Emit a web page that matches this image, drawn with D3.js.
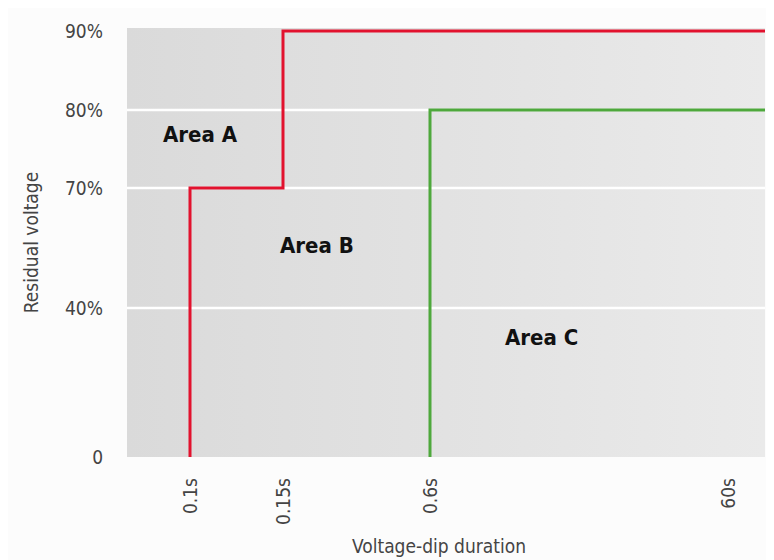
<!DOCTYPE html>
<html><head><meta charset="utf-8">
<script src="https://cdn.jsdelivr.net/npm/d3@7"></script>
<style>
html,body{margin:0;padding:0;background:#fff;}
svg{display:block;}
text{font-family:"Liberation Sans Narrow","DejaVu Sans Condensed","Roboto",sans-serif;}
</style></head>
<body>
<script>
// ---- data ----
const xTickValues = [0.1, 0.15, 0.6, 60];
const xTickLabels = ["0.1s", "0.15s", "0.6s", "60s"];
const yTickValues = [0, 40, 70, 80, 90];
const yTickLabels = ["0", "40%", "70%", "80%", "90%"];
// curves: step boundaries (duration, residual voltage); last point extends to the plot edge
const redDurations = [0.1, 0.1, 0.15, 0.15];
const redVoltages  = [0, 70, 70, 90];
const greenDurations = [0.6, 0.6];
const greenVoltages  = [0, 80];
const areaNames = ["Area A", "Area B", "Area C"];
const areaDurations = [0.1, 0.15, 0.6];   // anchor points for the labels
const areaVoltages  = [80, 70, 40];

// ---- layout ----
const W = 774, H = 560;
const plot = {left: 127, right: 765, top: 28, bottom: 457};
const svg = d3.select("body").append("svg").attr("width", W).attr("height", H);

const defs = svg.append("defs");
const grad = defs.append("linearGradient").attr("id","bg").attr("x1","0").attr("x2","1").attr("y1","0").attr("y2","0");
grad.append("stop").attr("offset","0").attr("stop-color","#dadada");
grad.append("stop").attr("offset","1").attr("stop-color","#eaeaea");

svg.append("rect").attr("x",8).attr("y",8).attr("width",W-16).attr("height",H-8).attr("fill","#fcfcfc");

svg.append("rect").attr("x",plot.left).attr("y",plot.top)
  .attr("width",plot.right-plot.left).attr("height",plot.bottom-plot.top).attr("fill","url(#bg)");

const x = d3.scaleLinear().domain(xTickValues).range([190, 283, 430, 728]);
const y = d3.scaleLinear().domain(yTickValues).range([plot.bottom, 308, 188, 110, 31]);

// gridlines
svg.append("g").selectAll("line").data(yTickValues.filter(v => v > 0 && v < 90)).join("line")
  .attr("x1", plot.left).attr("x2", plot.right)
  .attr("y1", d => y(d)).attr("y2", d => y(d))
  .attr("stroke", "#ffffff").attr("stroke-width", 2.5);

// y axis
const yAxis = d3.axisLeft(y).tickValues(yTickValues).tickFormat((d,i) => yTickLabels[i]).tickSize(0).tickPadding(0);
const gy = svg.append("g").attr("transform", `translate(${plot.left - 24},0)`).call(yAxis);
gy.select(".domain").remove();
gy.selectAll("text").attr("font-size", 19).attr("fill", "#444").attr("dy", "0.35em")
  .style("font-family", '"Liberation Sans Narrow","DejaVu Sans Condensed",sans-serif');

// x axis
const xAxis = d3.axisBottom(x).tickValues(xTickValues).tickFormat((d,i) => xTickLabels[i]).tickSize(0).tickPadding(0);
const gx = svg.append("g").attr("transform", `translate(0,${plot.bottom + 21})`).call(xAxis);
gx.select(".domain").remove();
gx.selectAll("text").attr("font-size", 19).attr("fill", "#444")
  .attr("transform", "rotate(-90)").attr("text-anchor", "end")
  .attr("x", 0).attr("y", 0).attr("dy", "0.35em")
  .style("font-family", '"Liberation Sans Narrow","DejaVu Sans Condensed",sans-serif');

// axis titles
svg.append("text").attr("x", (plot.left + plot.right) / 2 - 7).attr("y", 553)
  .attr("text-anchor", "middle").attr("font-size", 19).attr("fill", "#444").text("Voltage-dip duration");
svg.append("text").attr("transform", `translate(38,${(plot.top + plot.bottom) / 2}) rotate(-90)`)
  .attr("text-anchor", "middle").attr("font-size", 19).attr("fill", "#444").text("Residual voltage");

// curves
function curvePoints(ds, vs) {
  const pts = ds.map((d, i) => [x(d), y(vs[i])]);
  pts.push([plot.right, y(vs[vs.length - 1])]);
  return pts;
}
const line = d3.line();
svg.append("path").attr("d", line(curvePoints(greenDurations, greenVoltages)))
  .attr("fill", "none").attr("stroke", "#4ea83c").attr("stroke-width", 3).attr("stroke-linejoin", "miter");
svg.append("path").attr("d", line(curvePoints(redDurations, redVoltages)))
  .attr("fill", "none").attr("stroke", "#e2122e").attr("stroke-width", 3).attr("stroke-linejoin", "miter");

// area labels
const labelOffsets = [[-27, 32], [-3, 65], [75, 37]];
svg.append("g").selectAll("text").data(areaNames).join("text")
  .attr("x", (d, i) => x(areaDurations[i]) + labelOffsets[i][0])
  .attr("y", (d, i) => y(areaVoltages[i]) + labelOffsets[i][1])
  .attr("font-size", 22).attr("font-weight", "bold").attr("fill", "#111")
  .text(d => d);
</script>
</body></html>
